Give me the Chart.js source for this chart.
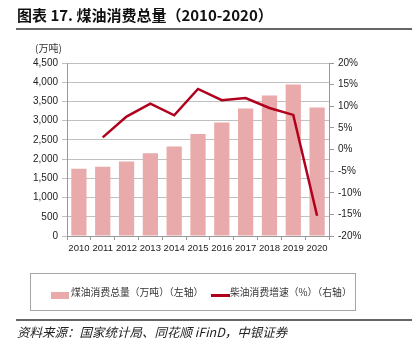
<!DOCTYPE html>
<html>
<head>
<meta charset="utf-8">
<script src="https://cdn.jsdelivr.net/npm/chart.js@4"></script>
<style>
    body { margin: 0; background: #fff; }
    #wrap { position: relative; width: 412px; height: 352px; overflow: hidden; font-family: "Noto Sans CJK SC", sans-serif; color: #222; }
    #wrap canvas { position: absolute; left: 0; top: 0; }
    .title { position: absolute; left: 17px; top: 4px; font-size: 15px; font-weight: bold; color: #111; white-space: nowrap; }
    .rule { position: absolute; left: 16px; right: 0; height: 2px; background: #666; }
    .unit { position: absolute; left: 35px; top: 40px; font-size: 10px; color: #333; }
    .legend { position: absolute; left: 30px; top: 273px; width: 326px; height: 38px; border: 1px solid #a6a6a6; box-sizing: border-box; font-size: 9.8px; color: #333; }
    .legend span { position: absolute; top: 11px; white-space: nowrap; }
    .swatch { position: absolute; left: 20px; top: 18px; width: 18px; height: 7px; background: #e8aaaa; }
    .lineswatch { position: absolute; left: 180px; top: 20px; width: 19px; height: 3px; background: #b0001e; }
    .source { position: absolute; left: 17px; top: 322px; font-size: 12.5px; font-style: italic; color: #222; white-space: nowrap; }
</style>
</head>
<body>
<div id="wrap">
    <canvas id="chart" width="412" height="352"></canvas>
    <div class="title">图表 17. 煤油消费总量（2010-2020）</div>
    <div class="rule" style="top: 28px;"></div>
    <div class="unit">(万吨)</div>
    <div class="legend">
        <div class="swatch"></div>
        <span style="left: 40px;">煤油消费总量（万吨）（左轴）</span>
        <div class="lineswatch"></div>
        <span style="left: 199px;">柴油消费增速（%）（右轴）</span>
    </div>
    <div class="rule" style="top: 319px;"></div>
    <div class="source">资料来源：国家统计局、同花顺 iFinD，中银证券</div>
</div>
<script>
const years = ["2010", "2011", "2012", "2013", "2014", "2015", "2016", "2017", "2018", "2019", "2020"];
const keroseneTotal = [1750, 1800, 1940, 2150, 2325, 2655, 2955, 3315, 3655, 3940, 3340];
const dieselGrowth = [null, 2.8, 7.6, 10.6, 7.9, 14.0, 11.4, 11.9, 9.6, 8.0, -15.3];

const tickFont = { family: "'Liberation Sans', Arial, sans-serif", size: 10 };
const xTickFont = { family: "'Liberation Sans', Arial, sans-serif", size: 9.5 };
const gridGray = "#c0c0c0";
const axisGray = "#999";

document.addEventListener("DOMContentLoaded", function () {
    const ctx = document.getElementById("chart").getContext("2d");

    new Chart(ctx, {
        data: {
            labels: years,
            datasets: [
                {
                    type: "line",
                    label: "柴油消费增速（%）（右轴）",
                    data: dieselGrowth,
                    yAxisID: "y1",
                    borderColor: "#b0001e",
                    borderWidth: 2.5,
                    pointRadius: 0,
                    tension: 0,
                    fill: false,
                },
                {
                    type: "bar",
                    label: "煤油消费总量（万吨）（左轴）",
                    data: keroseneTotal,
                    yAxisID: "y",
                    backgroundColor: "#e8aaaa",
                    barPercentage: 0.64,
                    categoryPercentage: 1,
                },
            ],
        },
        options: {
            responsive: false,
            animation: false,
            layout: {
                padding: { top: 63, bottom: 96, left: 0, right: 0 },
            },
            plugins: {
                legend: { display: false },
                tooltip: { enabled: false },
            },
            scales: {
                x: {
                    offset: true,
                    grid: {
                        display: true,
                        offset: true,
                        drawOnChartArea: false,
                        color: axisGray,
                        tickLength: 4,
                    },
                    border: { color: axisGray },
                    ticks: { font: xTickFont, color: "#222", padding: 3, maxRotation: 0, autoSkip: false },
                    afterFit: function (axis) { axis.height = 20; },
                },
                y: {
                    position: "left",
                    min: 0,
                    max: 4500,
                    grid: { color: gridGray, tickLength: 5 },
                    border: { color: axisGray },
                    ticks: {
                        stepSize: 500,
                        font: tickFont,
                        color: "#222",
                        padding: 4,
                        callback: function (value) {
                            return value.toLocaleString("en-US");
                        },
                    },
                    afterFit: function (axis) { axis.width = 67; },
                },
                y1: {
                    position: "right",
                    min: -20,
                    max: 20,
                    grid: { drawOnChartArea: false, color: axisGray, tickLength: 5 },
                    border: { color: axisGray },
                    ticks: {
                        stepSize: 5,
                        font: tickFont,
                        color: "#222",
                        padding: 4,
                        callback: function (value) {
                            return value + "%";
                        },
                    },
                    afterFit: function (axis) { axis.width = 83; },
                },
            },
        },
    });
});
</script>
</body>
</html>
